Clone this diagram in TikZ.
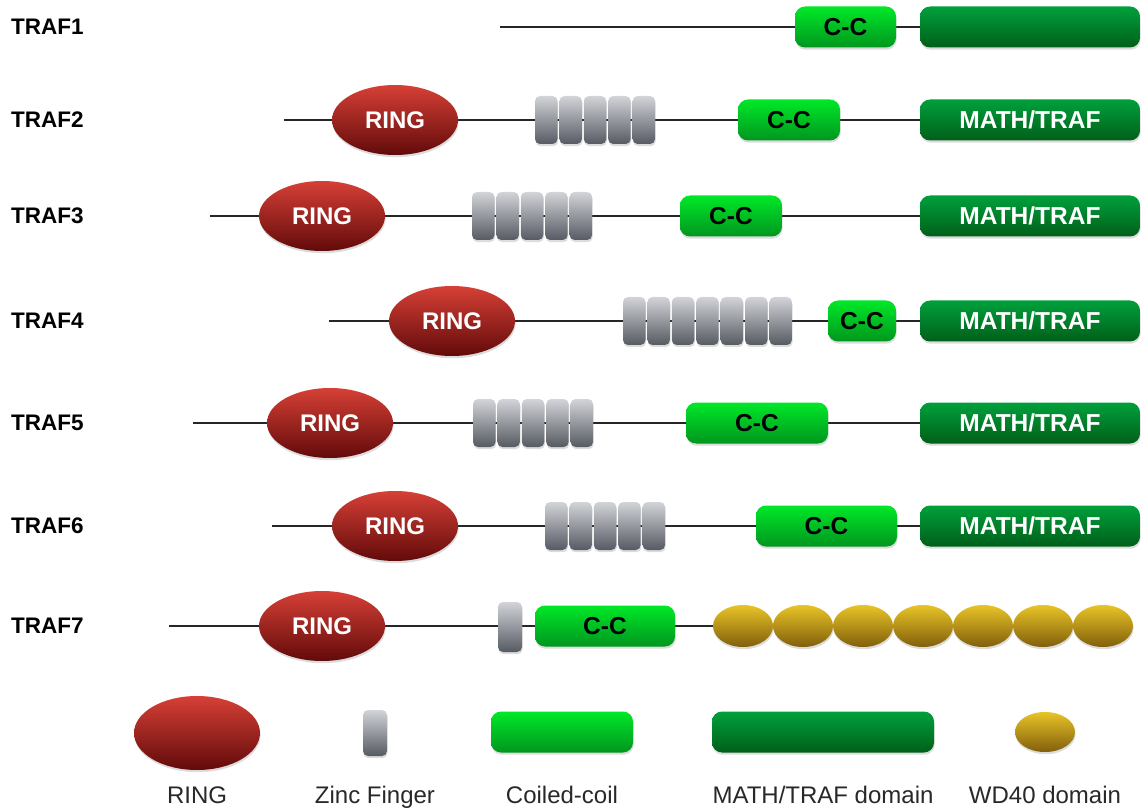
\documentclass[tikz,border=0pt]{standalone}
\usepackage{fontspec}
\setmainfont{Liberation Sans}
\usetikzlibrary{shapes.geometric,shadows,backgrounds}
\definecolor{ringtop}{RGB}{214,64,54}
\definecolor{ringbot}{RGB}{98,10,10}
\definecolor{zinctop}{RGB}{210,212,216}
\definecolor{zincbot}{RGB}{86,90,98}
\definecolor{cctop}{RGB}{0,232,40}
\definecolor{ccbot}{RGB}{0,150,30}
\definecolor{mathtop}{RGB}{0,160,60}
\definecolor{mathbot}{RGB}{0,95,25}
\definecolor{wdtop}{RGB}{232,196,40}
\definecolor{wdbot}{RGB}{130,95,10}
\definecolor{legtxt}{RGB}{40,40,40}
\begin{document}
\begin{tikzpicture}[x=1pt,y=-1pt,
  shd/.style={drop shadow={shadow xshift=0.6pt,shadow yshift=-2.2pt,opacity=0.28}},
  lbl/.style={anchor=west,font=\bfseries\fontsize{22.5}{22.5}\selectfont,inner sep=0},
  ringd/.style={ellipse,shd,inner sep=0,minimum width=126,minimum height=70,
    top color=ringtop,bottom color=ringbot,text=white,font=\bfseries\fontsize{24}{24}\selectfont},
  zinc/.style={rectangle,shd,rounded corners=5,inner sep=0,minimum width=22.5,minimum height=48,
    top color=zinctop,bottom color=zincbot},
  ccd/.style={rectangle,shd,rounded corners=10,inner sep=0,minimum height=41,minimum width=#1,
    top color=cctop,bottom color=ccbot,text=black,font=\bfseries\fontsize{24.5}{24.5}\selectfont},
  mathd/.style={rectangle,shd,rounded corners=10,inner sep=0,minimum height=41,minimum width=#1,
    top color=mathtop,bottom color=mathbot,text=white,font=\bfseries\fontsize{24.5}{24.5}\selectfont},
  wd/.style={ellipse,shd,inner sep=0,minimum width=60,minimum height=42,
    top color=wdtop,bottom color=wdbot},
  bb/.style={draw=black!85,line width=1.2pt},
  legtext/.style={anchor=base,font=\fontsize{24}{24}\selectfont,text=legtxt,inner sep=0}]
\useasboundingbox (0,0) rectangle (1141,810);

% ---------- TRAF1
\node[lbl] (t1) at (11,27) {TRAF1};
\coordinate (s1) at (500,27);
\node[ccd=101] (c1) at (845.5,27) {C-C};
\node[mathd=220] (m1) at (1030,27) {};
\begin{scope}[on background layer]\draw[bb] (s1) -- (m1.west);\end{scope}

% ---------- TRAF2
\node[lbl] (t2) at (11,120) {TRAF2};
\coordinate (s2) at (284,120);
\node[ringd] (r2) at (395,120) {RING};
\foreach \i in {0,...,4} \node[zinc] (z2\i) at ({546.25+24.4*\i},120) {};
\node[ccd=102] (c2) at (789,120) {C-C};
\node[mathd=220] (m2) at (1030,120) {MATH/TRAF};
\begin{scope}[on background layer]\draw[bb] (s2) -- (m2.west);\end{scope}

% ---------- TRAF3
\node[lbl] (t3) at (11,216) {TRAF3};
\coordinate (s3) at (210,216);
\node[ringd] (r3) at (322,216) {RING};
\foreach \i in {0,...,4} \node[zinc] (z3\i) at ({483.25+24.4*\i},216) {};
\node[ccd=102] (c3) at (731,216) {C-C};
\node[mathd=220] (m3) at (1030,216) {MATH/TRAF};
\begin{scope}[on background layer]\draw[bb] (s3) -- (m3.west);\end{scope}

% ---------- TRAF4
\node[lbl] (t4) at (11,321) {TRAF4};
\coordinate (s4) at (329,321);
\node[ringd] (r4) at (452,321) {RING};
\foreach \i in {0,...,6} \node[zinc] (z4\i) at ({634.25+24.4*\i},321) {};
\node[ccd=68] (c4) at (862,321) {C-C};
\node[mathd=220] (m4) at (1030,321) {MATH/TRAF};
\begin{scope}[on background layer]\draw[bb] (s4) -- (m4.west);\end{scope}

% ---------- TRAF5
\node[lbl] (t5) at (11,423) {TRAF5};
\coordinate (s5) at (193,423);
\node[ringd] (r5) at (330,423) {RING};
\foreach \i in {0,...,4} \node[zinc] (z5\i) at ({484.25+24.4*\i},423) {};
\node[ccd=142] (c5) at (757,423) {C-C};
\node[mathd=220] (m5) at (1030,423) {MATH/TRAF};
\begin{scope}[on background layer]\draw[bb] (s5) -- (m5.west);\end{scope}

% ---------- TRAF6
\node[lbl] (t6) at (11,526) {TRAF6};
\coordinate (s6) at (272,526);
\node[ringd] (r6) at (395,526) {RING};
\foreach \i in {0,...,4} \node[zinc] (z6\i) at ({556.25+24.4*\i},526) {};
\node[ccd=141] (c6) at (826.5,526) {C-C};
\node[mathd=220] (m6) at (1030,526) {MATH/TRAF};
\begin{scope}[on background layer]\draw[bb] (s6) -- (m6.west);\end{scope}

% ---------- TRAF7
\node[lbl] (t7) at (11,626) {TRAF7};
\coordinate (s7) at (169,626);
\node[ringd] (r7) at (322,626) {RING};
\node[zinc,minimum width=24,minimum height=50] (z7) at (510,627) {};
\node[ccd=140] (c7) at (605,626) {C-C};
\foreach \i in {0,...,6} \node[wd] (w7\i) at ({743+60*\i},626) {};
\begin{scope}[on background layer]\draw[bb] (s7) -- (w76.center);\end{scope}

% ---------- legend
\node[ringd,minimum height=74] (lr) at (197,733) {};
\node[zinc,minimum width=24,minimum height=46] (lz) at (375,733) {};
\node[ccd=142] (lc) at (562,732) {};
\node[mathd=222] (lm) at (823,732) {};
\node[wd,minimum height=40] (lw) at (1045,732) {};
\node[legtext] (lt1) at (197,803) {RING};
\node[legtext] (lt2) at (375,803) {Zinc Finger};
\node[legtext] (lt3) at (562,803) {Coiled-coil};
\node[legtext] (lt4) at (823,803) {MATH/TRAF domain};
\node[legtext] (lt5) at (1045,803) {WD40 domain};
\end{tikzpicture}
\end{document}
